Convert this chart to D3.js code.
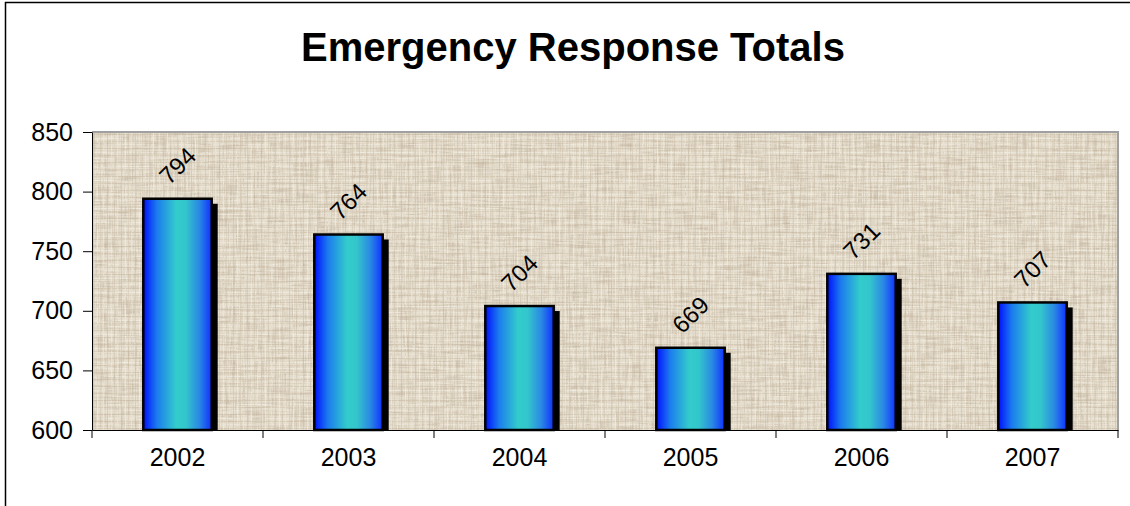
<!DOCTYPE html>
<html>
<head>
<meta charset="utf-8">
<script src="https://cdn.jsdelivr.net/npm/d3@7"></script>
<style>
  body { margin: 0; background: #fff; }
  text { font-family: "Liberation Sans", Arial, sans-serif; }
</style>
</head>
<body>
<div id="wrapper"></div>
<script>
// chart data
const years = ["2002", "2003", "2004", "2005", "2006", "2007"];
const totals = [794, 764, 704, 669, 731, 707];
const yTicks = [600, 650, 700, 750, 800, 850];
const chartTitle = "Emergency Response Totals";

function drawBars() {
  const dimensions = {
    width: 1130,
    height: 506,
    margin: { top: 132, right: 12, bottom: 76, left: 92 },
  };
  dimensions.boundedWidth = dimensions.width - dimensions.margin.left - dimensions.margin.right;
  dimensions.boundedHeight = dimensions.height - dimensions.margin.top - dimensions.margin.bottom;

  const wrapper = d3.select("#wrapper")
    .append("svg")
    .attr("width", dimensions.width)
    .attr("height", dimensions.height);

  const defs = wrapper.append("defs");

  // canvas-like texture: fine grid plus woven noise streaks
  const pattern = defs.append("pattern")
    .attr("id", "canvas")
    .attr("patternUnits", "userSpaceOnUse")
    .attr("width", 14)
    .attr("height", 14);
  pattern.append("rect").attr("width", 14).attr("height", 14).attr("fill", "#e6dece");
  const hLines = [[2, "#cdc2ad"], [6, "#f2eee5"], [9, "#d4cab6"], [12, "#efe9de"]];
  const vLines = [[1, "#cfc4af"], [5, "#f3efe6"], [8, "#d6ccb8"], [11, "#ede7dc"]];
  hLines.forEach(([y, c]) => pattern.append("rect")
    .attr("x", 0).attr("y", y).attr("width", 14).attr("height", 1).attr("fill", c).attr("opacity", 0.7));
  vLines.forEach(([x, c]) => pattern.append("rect")
    .attr("x", x).attr("y", 0).attr("width", 1).attr("height", 14).attr("fill", c).attr("opacity", 0.6));

  const weave = defs.append("filter")
    .attr("id", "weave")
    .attr("x", 0).attr("y", 0).attr("width", 1).attr("height", 1);
  weave.append("feTurbulence")
    .attr("type", "fractalNoise").attr("baseFrequency", "0.04 0.55")
    .attr("numOctaves", 2).attr("seed", 3).attr("result", "h");
  weave.append("feTurbulence")
    .attr("type", "fractalNoise").attr("baseFrequency", "0.55 0.04")
    .attr("numOctaves", 2).attr("seed", 8).attr("result", "v");
  weave.append("feComposite")
    .attr("in", "h").attr("in2", "v")
    .attr("operator", "arithmetic")
    .attr("k1", 0).attr("k2", 0.5).attr("k3", 0.5).attr("k4", 0)
    .attr("result", "n");
  weave.append("feColorMatrix")
    .attr("in", "n")
    .attr("type", "matrix")
    .attr("values", "0 0 0 0 0.55  0 0 0 0 0.46  0 0 0 0 0.35  2.4 0 0 0 -1.05");

  // horizontal bar gradient blue -> teal -> blue
  const grad = defs.append("linearGradient")
    .attr("id", "barFill")
    .attr("x1", "0").attr("x2", "1").attr("y1", "0").attr("y2", "0");
  [[0, "#0010ff"], [0.2, "#1c7cee"], [0.48, "#33cccc"], [0.62, "#33c6cc"], [0.82, "#2a88e4"], [1, "#1030ff"]]
    .forEach(([o, c]) => grad.append("stop").attr("offset", o).attr("stop-color", c));

  // outer frame (runs off the right/bottom edge like the original)
  wrapper.append("rect")
    .attr("x", 5.5).attr("y", 2.5)
    .attr("width", 1140).attr("height", 520)
    .attr("fill", "#fff")
    .attr("stroke", "#000")
    .attr("stroke-width", 1.5);

  wrapper.append("text")
    .attr("x", 573)
    .attr("y", 61)
    .attr("text-anchor", "middle")
    .attr("font-size", 40)
    .attr("font-weight", "bold")
    .text(chartTitle);

  const bounds = wrapper.append("g")
    .attr("transform", `translate(${dimensions.margin.left}, ${dimensions.margin.top})`);

  const xScale = d3.scaleBand()
    .domain(years)
    .range([0, dimensions.boundedWidth]);

  const yScale = d3.scaleLinear()
    .domain([600, 850])
    .range([dimensions.boundedHeight, 0]);

  bounds.append("rect")
    .attr("width", dimensions.boundedWidth)
    .attr("height", dimensions.boundedHeight)
    .attr("fill", "url(#canvas)");
  bounds.append("rect")
    .attr("width", dimensions.boundedWidth)
    .attr("height", dimensions.boundedHeight)
    .attr("fill", "#fff")
    .attr("filter", "url(#weave)");

  // gray top/right frame of plot
  bounds.append("path")
    .attr("d", `M0,0H${dimensions.boundedWidth}V${dimensions.boundedHeight}`)
    .attr("fill", "none")
    .attr("stroke", "#a0a0a0")
    .attr("stroke-width", 2);

  const barW = xScale.bandwidth() * 0.4;
  const barX = d => xScale(d) + (xScale.bandwidth() - barW) / 2;
  const data = years.map((y, i) => ({ year: y, value: totals[i] }));

  // drop shadow
  bounds.selectAll(".shadow")
    .data(data)
    .enter().append("rect")
    .attr("class", "shadow")
    .attr("x", d => barX(d.year) + 6)
    .attr("y", d => yScale(d.value) + 5)
    .attr("width", barW)
    .attr("height", d => yScale(600) - yScale(d.value) - 5)
    .attr("fill", "#000");

  bounds.selectAll(".bar")
    .data(data)
    .enter().append("rect")
    .attr("class", "bar")
    .attr("x", d => barX(d.year))
    .attr("y", d => yScale(d.value))
    .attr("width", barW)
    .attr("height", d => yScale(600) - yScale(d.value))
    .attr("fill", "url(#barFill)")
    .attr("stroke", "#000")
    .attr("stroke-width", 2.5);

  bounds.selectAll(".label")
    .data(data)
    .enter().append("text")
    .attr("class", "label")
    .attr("transform", d =>
      `translate(${xScale(d.year) + xScale.bandwidth() / 2}, ${yScale(d.value) - 33}) rotate(-45)`)
    .attr("text-anchor", "middle")
    .attr("dy", "0.35em")
    .attr("font-size", 24)
    .text(d => d.value);

  // y axis
  const yAxis = d3.axisLeft(yScale)
    .tickValues(yTicks)
    .tickSize(9)
    .tickPadding(10)
    .tickSizeOuter(0);
  const yAxisG = bounds.append("g").call(yAxis);
  yAxisG.attr("font-family", null).attr("font-size", 25);
  yAxisG.selectAll("text").attr("fill", "#000");
  yAxisG.selectAll("line, path").attr("stroke", "#000");

  // x axis: labels at band centres, ticks at band edges
  const xAxis = d3.axisBottom(xScale).tickSize(0).tickPadding(18).tickSizeOuter(0);
  const xAxisG = bounds.append("g")
    .attr("transform", `translate(0, ${dimensions.boundedHeight})`)
    .call(xAxis);
  xAxisG.attr("font-family", null).attr("font-size", 25);
  xAxisG.selectAll("text").attr("fill", "#000");
  xAxisG.select(".domain").attr("stroke", "#000");

  const edges = years.map(d => xScale(d)).concat([dimensions.boundedWidth]);
  xAxisG.selectAll(".edge")
    .data(edges)
    .enter().append("line")
    .attr("class", "edge")
    .attr("x1", d => d).attr("x2", d => d)
    .attr("y1", 0).attr("y2", 8)
    .attr("stroke", "#000");
}

drawBars();
</script>
</body>
</html>
